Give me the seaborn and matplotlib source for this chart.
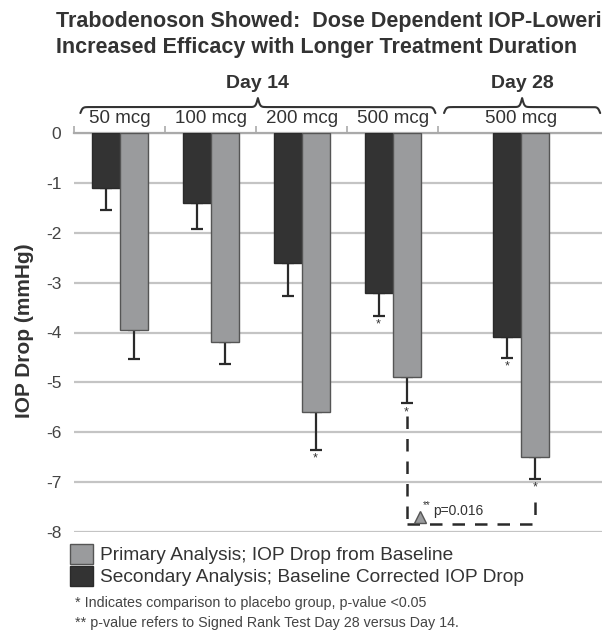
import matplotlib
matplotlib.use("Agg")
import matplotlib.pyplot as plt
import numpy as np
import pandas as pd
import seaborn as sns
from matplotlib.patches import Patch

# =========================
# DATA
# =========================
doses = ["50 mcg", "100 mcg", "200 mcg", "500 mcg", "500 mcg"]
days = ["Day 14", "Day 14", "Day 14", "Day 14", "Day 28"]
primary = [-3.95, -4.2, -5.6, -4.9, -6.5]
primary_err = [0.58, 0.43, 0.75, 0.52, 0.43]
primary_sig = [False, False, True, True, True]
secondary = [-1.1, -1.4, -2.6, -3.2, -4.1]
secondary_err = [0.45, 0.52, 0.67, 0.46, 0.41]
secondary_sig = [False, False, False, True, True]
p_label = "p=0.016"

primary_name = "Primary Analysis; IOP Drop from Baseline"
secondary_name = "Secondary Analysis; Baseline Corrected IOP Drop"
footnotes = ["* Indicates comparison to placebo group, p-value <0.05",
             "** p-value refers to Signed Rank Test Day 28 versus Day 14."]
# first line is cropped in the source picture
title_lines = ["Trabodenoson Showed:  Dose Dependent IOP-Loweri",
               "Increased Efficacy with Longer Treatment Duration"]

# slot centres on the x axis (Day 28 slot is wider)
slot_pos = [0, 1, 2, 3, 4.41]

DARK = "#333333"
GRAY = "#9a9b9d"
TEXT = "#333333"

sns.set_style("white")
plt.rcParams["font.family"] = ["Liberation Sans", "DejaVu Sans"]

df = pd.DataFrame({
    "pos": slot_pos * 2,
    "value": secondary + primary,
    "err": secondary_err + primary_err,
    "sig": secondary_sig + primary_sig,
    "analysis": [secondary_name] * 5 + [primary_name] * 5,
})

fig = plt.figure(figsize=(6.02, 6.33), dpi=100)
ax = fig.add_axes([74 / 602, 101 / 633, 528 / 602, 399 / 633])

sns.barplot(data=df, x="pos", y="value", hue="analysis",
            hue_order=[secondary_name, primary_name],
            palette=[DARK, GRAY], native_scale=True, width=0.615,
            errorbar=None, legend=False, saturation=1, ax=ax, zorder=3)

# =========================
# ERROR BARS + STARS
# =========================
centers = {}
for cont, name, edge in zip(ax.containers, [secondary_name, primary_name],
                            ["#2a2a2a", "#555555"]):
    sub = df[df["analysis"] == name].sort_values("pos")
    bars = sorted(cont.patches, key=lambda b: b.get_x())
    xs = []
    for bar, (_, row) in zip(bars, sub.iterrows()):
        bar.set_edgecolor(edge)
        bar.set_linewidth(1.0)
        cx = bar.get_x() + bar.get_width() / 2
        xs.append(cx)
        ax.errorbar(cx, row["value"], yerr=[[row["err"]], [0]], fmt="none",
                    ecolor="#2a2a2a", elinewidth=1.6, capsize=4,
                    capthick=1.6, zorder=2)
        if row["sig"]:
            ax.text(cx, row["value"] - row["err"] - 0.06, "*", ha="center",
                    va="top", fontsize=9, color=TEXT)
    centers[name] = xs

# dashed comparison bracket Day 14 vs Day 28 (500 mcg)
x0 = centers[primary_name][3]
x1 = centers[primary_name][4]
dash = dict(color="#2a2a2a", lw=1.8, ls=(0, (5, 4)), zorder=4)
ax.plot([x0, x0], [-5.68, -7.83], **dash)
ax.plot([x0, x1], [-7.83, -7.83], **dash)
ax.plot([x1, x1], [-7.4, -7.83], **dash)
ax.plot([3.30], [-7.69], marker="^", ms=8, mfc=GRAY, mec="#555555", zorder=5)
ax.text(3.33, -7.47, "**", fontsize=7, color=TEXT, ha="left", va="center")
ax.text(3.45, -7.57, p_label, fontsize=10, color=TEXT, ha="left", va="center")

# =========================
# AXES STYLE
# =========================
ax.set_xlim(-0.5, 5.3)
ax.set_ylim(-8, 0)
ax.set_yticks(range(0, -9, -1))
ax.set_yticklabels([str(v) for v in range(0, -9, -1)])
ax.yaxis.grid(True, color="#c4c4c4", lw=1.6, zorder=0)
ax.set_axisbelow(True)
ax.tick_params(axis="y", length=0, pad=9, labelsize=12.5, labelcolor="#444444")
ax.set_xlabel("")
ax.set_ylabel("")
for s in ["left", "right", "bottom"]:
    ax.spines[s].set_visible(False)
ax.spines["top"].set_color("#aaaaaa")
ax.spines["top"].set_linewidth(1.6)
ax.xaxis.tick_top()
ax.set_xticks([])
ax.set_xticks([-0.5, 0.5, 1.5, 2.5, 3.5], minor=True)
ax.tick_params(axis="x", which="minor", top=True, direction="out", length=5,
               width=1.2, color="#aaaaaa")

# category labels above the axis
for p, d in zip(slot_pos, doses):
    ax.text(p, 0.30, d, ha="center", va="center", fontsize=13.5, color=TEXT,
            clip_on=False)


def brace(ax, xa, xb, y0, a=0.12, b=0.18, beta=80):
    xm = (xa + xb) / 2
    half = np.linspace(xa, xm, 300)
    s1 = 1 / (1 + np.exp(-beta * (half - xa))) - 0.5
    s2 = 1 / (1 + np.exp(-beta * (half - xm)))
    yh = y0 + 2 * a * s1 + 2 * b * s2
    xx = np.concatenate([half, 2 * xm - half[::-1]])
    yy = np.concatenate([yh, yh[::-1]])
    ax.plot(xx, yy, color=TEXT, lw=1.5, clip_on=False)
    return xm


for day in ["Day 14", "Day 28"]:
    idx = [i for i, d in enumerate(days) if d == day]
    if day == "Day 14":
        xa, xb = slot_pos[idx[0]] - 0.43, slot_pos[idx[-1]] + 0.47
    else:
        xa, xb = slot_pos[idx[0]] - 0.845, slot_pos[idx[-1]] + 0.87
    xm = brace(ax, xa, xb, 0.40)
    ax.text(xm, 1.0, day, ha="center", va="center", fontsize=14,
            fontweight="bold", color=TEXT, clip_on=False)

# =========================
# TEXTS
# =========================
fig.text(25 / 602, 1 - 331 / 633, "IOP Drop (mmHg)", rotation=90,
         ha="center", va="center", fontsize=15, fontweight="bold", color=TEXT)
for i, line in enumerate(title_lines):
    fig.text(56 / 602, 1 - (22 + 25 * i) / 633, line, ha="left", va="center",
             fontsize=15.5, fontweight="bold", color=TEXT)

handles = [Patch(facecolor=GRAY, edgecolor="#555555", lw=1.0),
           Patch(facecolor=DARK, edgecolor="#2a2a2a", lw=1.0)]
fig.legend(handles, [primary_name, secondary_name], loc="upper left",
           bbox_to_anchor=(70 / 602, 1 - 544 / 633), frameon=False,
           fontsize=13.8, handlelength=1.2, handleheight=1.2,
           handletextpad=0.35, labelspacing=0.1, borderpad=0,
           borderaxespad=0, labelcolor=TEXT)

for i, note in enumerate(footnotes):
    fig.text(75 / 602, 1 - (603 + 20 * i) / 633, note, ha="left", va="center",
             fontsize=10.3, color="#444444")

fig.savefig("out.png", dpi=100)
